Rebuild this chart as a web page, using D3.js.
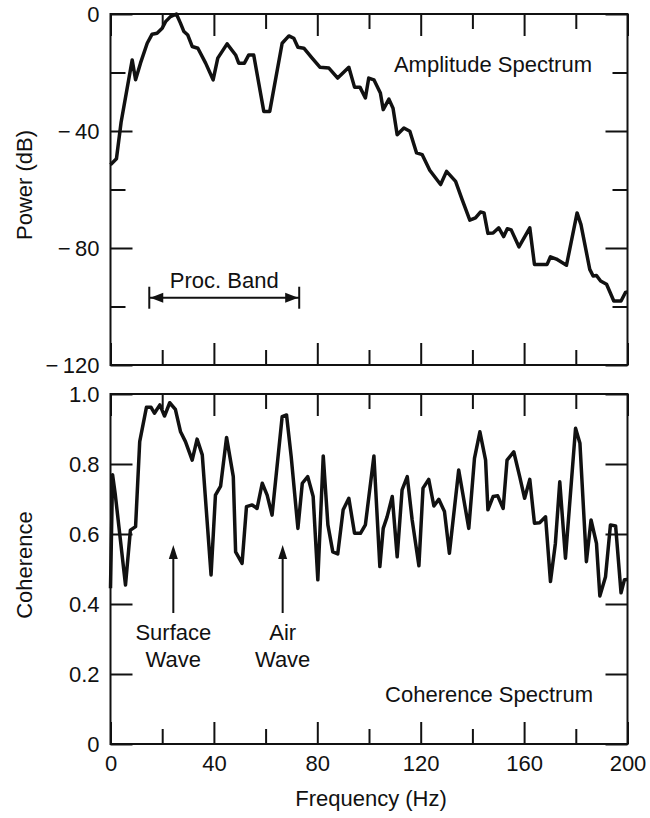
<!DOCTYPE html>
<html><head><meta charset="utf-8">
<script src="https://cdn.jsdelivr.net/npm/d3@7"></script>
<style>
body{margin:0;background:#fff}
text{font-family:"Liberation Sans",Arial,Helvetica,sans-serif;fill:#111}
</style>
</head><body>
<svg id="chart" width="650" height="818"></svg>
<script>
// ---- data ----
const powerFreq = [0,2.3,4.1,8.4,9.7,11.6,14.2,16.1,18,20,
  21.3,23.2,25.5,27.1,28.4,29.9,31.6,33.8,36.8,39.7,
  41.5,45.1,48.4,49.6,51.8,53.5,55.4,59.3,61.6,66.4,
  69,70.9,72.5,74.8,78,81,84.5,87.9,92.2,94.4,
  96.5,98.6,99.9,101.9,104.4,105.5,107.7,109.3,110.9,113.5,
  115.8,118.4,120.6,123.5,127.7,130,133.5,136,139,141.2,
  143.1,144.5,146,148,150.2,152.1,153.5,155,158,162.2,
  164,168.9,170.2,172.5,176.4,180.5,182,185.4,186.7,188,
  189.6,191.9,194.7,197.5,199.2,200];
const powerDb = [-51.5,-49.5,-37,-15.7,-22.5,-16.8,-10,-6.9,-6.6,-4.9,
  -2.6,-0.9,0,-3.2,-6,-7.2,-11.1,-11.7,-16.8,-22.5,
  -15.1,-10.2,-14,-16.8,-16.8,-14,-14,-33.3,-33.3,-10,
  -7.5,-8.3,-11.4,-11.7,-15.1,-18.2,-18.5,-21.9,-18.2,-25,
  -25,-28.7,-21.9,-22.5,-27,-32.7,-29.1,-32.2,-41.3,-39,
  -40.1,-47.5,-48.1,-53.4,-58.3,-53.8,-57.2,-63.4,-70.5,-69.7,
  -67.7,-68,-75,-74.9,-73.1,-76.1,-73.4,-73.8,-79.6,-73.1,
  -85.6,-85.6,-83,-83.8,-85.9,-68,-72,-87.3,-89.6,-89.4,
  -91.3,-92.4,-98.1,-98.1,-95.2,-95];

const cohFreq = [0,0.8,1.8,5.8,7.7,9.7,11.3,13.9,15.7,17,
  19.1,20.9,22.9,25.1,27.1,29,31.6,33.5,35.5,38.9,
  40.6,42.6,44.9,47.5,48.4,50.9,52.6,54.8,56.7,58.7,
  60.6,62.5,66.4,68.1,69.9,72.5,74.2,76.3,78.4,80.2,
  82.3,84.1,86,87.9,90,92.2,94.4,96.7,98.6,101.9,
  104.2,105.5,107,109,110.9,112.8,114.8,116.7,119.3,120.9,
  123.1,125.1,127,129.2,131.1,134.7,138.6,140.8,142.9,145.1,
  146,148,149.8,151.9,153.4,156,158.3,160.2,162.2,164,
  166,168.3,170.2,172.1,173.8,176,179.9,181.6,184.1,185.9,
  188,189.3,191.5,193.4,195.4,197.5,198.8,200];
const cohVal = [0.445,0.769,0.716,0.454,0.611,0.621,0.864,0.962,0.962,0.945,
  0.969,0.937,0.975,0.956,0.892,0.864,0.811,0.871,0.826,0.483,
  0.711,0.737,0.876,0.764,0.549,0.516,0.678,0.683,0.673,0.745,
  0.711,0.654,0.935,0.94,0.821,0.616,0.745,0.764,0.707,0.469,
  0.823,0.626,0.549,0.543,0.669,0.702,0.602,0.602,0.626,0.823,
  0.507,0.616,0.649,0.707,0.535,0.726,0.764,0.64,0.509,0.731,
  0.756,0.68,0.699,0.664,0.545,0.783,0.616,0.816,0.892,0.811,
  0.669,0.707,0.709,0.673,0.811,0.835,0.764,0.702,0.756,0.631,
  0.632,0.649,0.464,0.573,0.749,0.531,0.902,0.859,0.521,0.64,
  0.573,0.423,0.478,0.626,0.623,0.432,0.469,0.47];

const freqMajorTicks = [0,40,80,120,160,200];
const freqMinorTicks = [20,60,100,140,180];
const powerMajorTicks = [0,-40,-80,-120];
const powerMinorTicks = [-20,-60,-100];
const cohTicks = [0,0.2,0.4,0.6,0.8,1.0];
const procBand = [15,73];
const waveArrows = [
  {freq:24.3, lines:["Surface","Wave"]},
  {freq:66.6, lines:["Air","Wave"]}
];

// ---- layout ----
const svg = d3.select("#chart");
const FS = 22;
const x = d3.scaleLinear().domain([0,200]).range([110.5,627.5]);
const yP = d3.scaleLinear().domain([-120,0]).range([365,14]);
const yC = d3.scaleLinear().domain([0,1]).range([744,394]);
const MAJ = 22, MIN = 15;

function fmtPow(d){ return d < 0 ? "\u2212\u2009" + Math.abs(d) : String(d); }
function fmtCoh(d){ return d === 0 ? "0" : d3.format(".1f")(d); }

function styleAxis(g){
  g.select(".domain").remove();
  g.selectAll(".tick line").attr("stroke","#111").attr("stroke-width",2);
  g.selectAll(".tick text").style("font-size",FS+"px").attr("fill","#111")
   .style("font-family",'"Liberation Sans",Arial,Helvetica,sans-serif');
}

function panel(y, top, bottom, yMaj, yMin, yFmt, showX){
  const x0 = x.range()[0], x1 = x.range()[1];
  svg.append("g").attr("transform",`translate(0,${bottom})`)
    .call(d3.axisBottom(x).tickValues(freqMajorTicks).tickSize(-MAJ).tickPadding(11)
      .tickFormat(showX ? d3.format("d") : () => ""))
    .call(styleAxis);
  svg.append("g").attr("transform",`translate(0,${bottom})`)
    .call(d3.axisBottom(x).tickValues(freqMinorTicks).tickSize(-MIN).tickFormat(() => ""))
    .call(styleAxis);
  svg.append("g").attr("transform",`translate(0,${top})`)
    .call(d3.axisTop(x).tickValues(freqMajorTicks).tickSize(-MAJ).tickFormat(() => ""))
    .call(styleAxis);
  svg.append("g").attr("transform",`translate(0,${top})`)
    .call(d3.axisTop(x).tickValues(freqMinorTicks).tickSize(-MIN).tickFormat(() => ""))
    .call(styleAxis);
  svg.append("g").attr("transform",`translate(${x0},0)`)
    .call(d3.axisLeft(y).tickValues(yMaj).tickSize(-MAJ).tickPadding(11).tickFormat(yFmt))
    .call(styleAxis);
  svg.append("g").attr("transform",`translate(${x1},0)`)
    .call(d3.axisRight(y).tickValues(yMaj).tickSize(-MAJ).tickFormat(() => ""))
    .call(styleAxis);
  if (yMin.length){
    svg.append("g").attr("transform",`translate(${x0},0)`)
      .call(d3.axisLeft(y).tickValues(yMin).tickSize(-MIN).tickFormat(() => ""))
      .call(styleAxis);
    svg.append("g").attr("transform",`translate(${x1},0)`)
      .call(d3.axisRight(y).tickValues(yMin).tickSize(-MIN).tickFormat(() => ""))
      .call(styleAxis);
  }
  svg.append("rect").attr("x",x0).attr("y",top).attr("width",x1-x0).attr("height",bottom-top)
    .attr("fill","none").attr("stroke","#111").attr("stroke-width",2);
}

panel(yP, yP.range()[1], yP.range()[0], powerMajorTicks, powerMinorTicks, fmtPow, false);
panel(yC, yC.range()[1], yC.range()[0], cohTicks, [], fmtCoh, true);

// ---- curves ----
const powerPts = powerFreq.map((f,i) => [f, powerDb[i]]);
const cohPts = cohFreq.map((f,i) => [f, cohVal[i]]);
svg.append("path").datum(powerPts)
  .attr("d", d3.line().x(d => x(d[0])).y(d => yP(d[1])))
  .attr("fill","none").attr("stroke","#111").attr("stroke-width",3.5).attr("stroke-linejoin","round");
svg.append("path").datum(cohPts)
  .attr("d", d3.line().x(d => x(d[0])).y(d => yC(d[1])))
  .attr("fill","none").attr("stroke","#111").attr("stroke-width",3.5).attr("stroke-linejoin","round");

// ---- annotations ----
svg.append("text").attr("x",592).attr("y",72).attr("text-anchor","end")
  .style("font-size",FS+"px").text("Amplitude Spectrum");
svg.append("text").attr("x",593).attr("y",702).attr("text-anchor","end")
  .style("font-size",FS+"px").text("Coherence Spectrum");

const pbY = yP(-97);
const pa = x(procBand[0]), pb = x(procBand[1]);
svg.append("line").attr("x1",pa).attr("x2",pb).attr("y1",pbY).attr("y2",pbY)
  .attr("stroke","#111").attr("stroke-width",2);
[pa,pb].forEach(px => svg.append("line").attr("x1",px).attr("x2",px)
  .attr("y1",pbY-11).attr("y2",pbY+11).attr("stroke","#111").attr("stroke-width",2));
svg.append("path").attr("d",`M${pa+1},${pbY}L${pa+14},${pbY-5}L${pa+14},${pbY+5}Z`).attr("fill","#111");
svg.append("path").attr("d",`M${pb-1},${pbY}L${pb-14},${pbY-5}L${pb-14},${pbY+5}Z`).attr("fill","#111");
svg.append("text").attr("x",(pa+pb)/2).attr("y",288).attr("text-anchor","middle")
  .style("font-size",FS+"px").text("Proc. Band");

waveArrows.forEach(a => {
  const ax = x(a.freq);
  svg.append("line").attr("x1",ax).attr("x2",ax).attr("y1",556).attr("y2",613)
    .attr("stroke","#111").attr("stroke-width",2);
  svg.append("path").attr("d",`M${ax},${545}L${ax-4.5},${559}L${ax+4.5},${559}Z`).attr("fill","#111");
  a.lines.forEach((t,i) => svg.append("text").attr("x",ax).attr("y",640+27*i)
    .attr("text-anchor","middle").style("font-size",FS+"px").text(t));
});

svg.append("text").attr("transform","translate(31.5,185) rotate(-90)").attr("text-anchor","middle")
  .style("font-size",FS+"px").text("Power (dB)");
svg.append("text").attr("transform","translate(31.5,565) rotate(-90)").attr("text-anchor","middle")
  .style("font-size",FS+"px").text("Coherence");
svg.append("text").attr("x",371).attr("y",806).attr("text-anchor","middle")
  .style("font-size",FS+"px").text("Frequency (Hz)");
</script>
</body></html>
